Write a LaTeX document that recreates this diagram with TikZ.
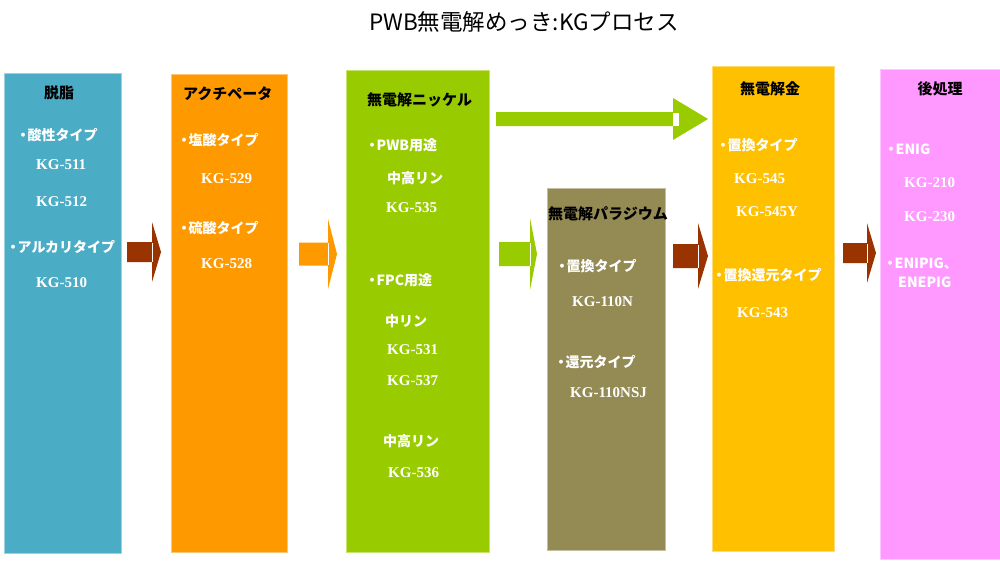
\documentclass[tikz,border=0pt]{standalone}
\usepackage{fontspec}
\usepackage{xcolor}
\usepackage{tikz}
\usetikzlibrary{positioning}

\newfontfamily\jpfont{Noto Sans CJK JP}
\newfontfamily\kgfont{Liberation Serif}
\newcommand\bul{・\kern-0.18em}

\definecolor{degcol}{HTML}{4BACC6}
\definecolor{actcol}{HTML}{FF9900}
\definecolor{nicol}{HTML}{99CC00}
\definecolor{pdcol}{HTML}{948A54}
\definecolor{aucol}{HTML}{FFC000}
\definecolor{postcol}{HTML}{FF99FF}
\definecolor{brcol}{HTML}{993300}

% block arrow: colour, start, shaft end, tip, y, shaft half, head half, notch
\newcommand\flowarrow[8]{%
  \fill[#1] (#2,#5-#6) -- (#3,#5-#6) -- (#3,#5-#7) -- (#4,#5)
    -- (#3,#5+#7) -- (#3,#5+#6) -- (#2,#5+#6) -- cycle;
  \fill[white] (#3,#5-#6+0.5) rectangle (#3+#8,#5+#6-0.5);
}

\begin{document}
\begin{tikzpicture}[
  x=1pt, y=-1pt,
  stagebox/.style = {rectangle, anchor=north west, inner sep=0pt,
                     line width=0.8pt},
  headtxt/.style  = {inner sep=0pt, text=black,
                     font=\jpfont\bfseries\fontsize{15}{17}\selectfont},
  itemtxt/.style  = {anchor=west, inner sep=0pt, text=white,
                     font=\jpfont\bfseries\fontsize{14}{16}\selectfont},
  codetxt/.style  = {anchor=west, inner sep=0pt, text=white,
                     font=\kgfont\bfseries\fontsize{15}{17}\selectfont}
]
\useasboundingbox (0,0) rectangle (1000,560);

% title
\node[inner sep=0pt, font=\jpfont\fontsize{22.5}{24}\selectfont] (title)
  at (524,22) {PWB無電解めっき:KGプロセス};

% stages
\node[stagebox, fill=degcol, draw=degcol!55!white,
      minimum width=117, minimum height=480] (deg) at (4,73) {};
\node[stagebox, fill=actcol, draw=actcol!55!white,
      minimum width=116, minimum height=478] (act) at (171,74) {};
\node[stagebox, fill=nicol, draw=nicol!55!white,
      minimum width=143, minimum height=482] (ni) at (346,70) {};
\node[stagebox, fill=pdcol, draw=pdcol!55!white,
      minimum width=118, minimum height=362] (pd) at (547,188) {};
\node[stagebox, fill=aucol, draw=aucol!55!white,
      minimum width=122, minimum height=485] (au) at (712,66) {};
\node[stagebox, fill=postcol, draw=postcol!55!white,
      minimum width=121, minimum height=490] (post) at (880,69) {};

% connectors
\flowarrow{brcol}{127}{152}{161}{252}{10}{30}{1.2}
\flowarrow{actcol}{299}{328}{337}{254}{11.5}{35}{1.2}
\flowarrow{nicol}{499}{530}{537}{254}{12}{36}{1.2}
\flowarrow{nicol}{496}{673}{708}{119}{7}{21}{6}
\flowarrow{brcol}{673}{698}{708}{256}{12}{33}{1.2}
\flowarrow{brcol}{843}{867}{876}{253}{10}{30}{1.2}

% degreasing
\node[headtxt] (deghead) at (59,93) {脱脂};
\node[itemtxt] (degacid) at (16,135) {\bul 酸性タイプ};
\node[codetxt] (kg511) at (36,165) {KG-511};
\node[codetxt] (kg512) at (36,202) {KG-512};
\node[itemtxt] (degalk) at (6,247) {\bul アルカリタイプ};
\node[codetxt] (kg510) at (36,283) {KG-510};

% activator
\node[headtxt, anchor=west] (acthead) at (183,94) {アクチペータ};
\node[itemtxt] (acthcl) at (177,140) {\bul 塩酸タイプ};
\node[codetxt] (kg529) at (201,179) {KG-529};
\node[itemtxt] (acth2so4) at (177,228) {\bul 硫酸タイプ};
\node[codetxt] (kg528) at (201,264) {KG-528};

% electroless nickel
\node[headtxt, anchor=west] (nihead) at (367,100) {無電解ニッケル};
\node[itemtxt] (nipwb) at (365,145) {\bul PWB用途};
\node[itemtxt] (nimh1) at (387,178) {中高リン};
\node[codetxt] (kg535) at (386,208) {KG-535};
\node[itemtxt] (nifpc) at (365,280) {\bul FPC用途};
\node[itemtxt] (nim) at (385,321) {中リン};
\node[codetxt] (kg531) at (387,350) {KG-531};
\node[codetxt] (kg537) at (387,381) {KG-537};
\node[itemtxt] (nimh2) at (383,441) {中高リン};
\node[codetxt] (kg536) at (388,473) {KG-536};

% electroless palladium
\node[headtxt, anchor=west] (pdhead) at (548,214) {無電解パラジウム};
\node[itemtxt] (pdimm) at (555,266) {\bul 置換タイプ};
\node[codetxt] (kg110n) at (572,302) {KG-110N};
\node[itemtxt] (pdred) at (554,362) {\bul 還元タイプ};
\node[codetxt] (kg110nsj) at (570,393) {KG-110NSJ};

% electroless gold
\node[headtxt] (auhead) at (770,89) {無電解金};
\node[itemtxt] (auimm) at (716,145) {\bul 置換タイプ};
\node[codetxt] (kg545) at (734,179) {KG-545};
\node[codetxt] (kg545y) at (736,212) {KG-545Y};
\node[itemtxt] (auimmred) at (712,275) {\bul 置換還元タイプ};
\node[codetxt] (kg543) at (737,313) {KG-543};

% post treatment
\node[headtxt] (posthead) at (940,89) {後処理};
\node[itemtxt] (enig) at (884,149) {\bul ENIG};
\node[codetxt] (kg210) at (904,183) {KG-210};
\node[codetxt] (kg230) at (904,217) {KG-230};
\node[itemtxt] (enipig) at (883,264) {\bul ENIPIG、};
\node[itemtxt] (enepig) at (898,282) {ENEPIG};
\end{tikzpicture}
\end{document}
